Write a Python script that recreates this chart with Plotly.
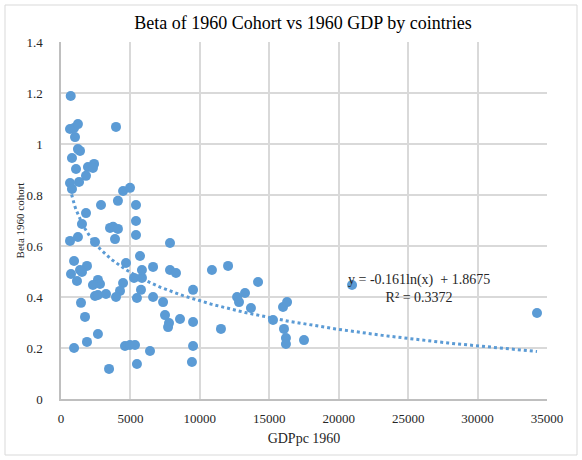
import numpy as np
import plotly.graph_objects as go

# GDP per capita 1960 (x) and Beta of 1960 cohort (y)
gdp_pc_1960 = [
    700, 650, 940, 1220, 1010, 3960, 1220, 1370, 790, 1080, 1940, 2380, 2300,
    1800, 1300, 650, 790, 4470, 4970, 2880, 4100, 5400, 1800, 5400, 1510,
    3530, 3750, 4100, 1220, 650, 2450, 3890, 5400, 7850, 5690, 4680, 940,
    1870, 1370, 1510, 720, 1150, 2660, 2810, 2300, 4470, 5260, 5830, 5830,
    6630, 7850, 8280, 10870, 12030, 14190, 5760, 4250, 9510, 2450, 2660,
    3240, 3960, 5470, 6630, 7350, 1440, 12680, 12820, 13250, 13680, 15990,
    16280, 7490, 7780, 7710, 8570, 9510, 11520, 15270, 16060, 16200, 16200,
    17500, 1730, 2660, 1870, 940, 4610, 4970, 5330, 6410, 9510, 9430, 5470,
    3460, 20960, 34280,
]
beta_1960 = [
    1.188, 1.059, 1.063, 1.078, 1.027, 1.067, 0.980, 0.973, 0.945, 0.902,
    0.910, 0.922, 0.906, 0.875, 0.851, 0.847, 0.824, 0.816, 0.828, 0.761,
    0.777, 0.761, 0.729, 0.698, 0.686, 0.671, 0.675, 0.667, 0.635, 0.620,
    0.616, 0.627, 0.643, 0.612, 0.561, 0.533, 0.541, 0.522, 0.506, 0.498,
    0.490, 0.463, 0.467, 0.451, 0.447, 0.455, 0.475, 0.475, 0.506, 0.518,
    0.506, 0.494, 0.506, 0.522, 0.459, 0.428, 0.424, 0.428, 0.404, 0.408,
    0.412, 0.400, 0.396, 0.400, 0.380, 0.377, 0.400, 0.380, 0.416, 0.357,
    0.361, 0.380, 0.329, 0.298, 0.282, 0.314, 0.302, 0.275, 0.310, 0.275,
    0.239, 0.216, 0.231, 0.322, 0.255, 0.224, 0.200, 0.208, 0.212, 0.212,
    0.188, 0.208, 0.145, 0.137, 0.118, 0.447, 0.337,
]

# Logarithmic trendline as shown on the chart
trend_a = -0.161
trend_b = 1.8675
r_squared = 0.3372

x_ticks = [0, 5000, 10000, 15000, 20000, 25000, 30000, 35000]
y_ticks = [0, 0.2, 0.4, 0.6, 0.8, 1.0, 1.2, 1.4]

title_text = "Beta of 1960 Cohort vs 1960 GDP by cointries"
x_title = "GDPpc 1960"
y_title = "Beta 1960 cohort"

blue = "#5B9BD5"
serif = "Liberation Serif"

tx = np.linspace(min(gdp_pc_1960), max(gdp_pc_1960), 300)
ty = trend_a * np.log(tx) + trend_b

fig = go.Figure()
fig.add_trace(go.Scatter(
    x=tx, y=ty, mode="lines",
    line=dict(color=blue, width=3, dash="dot"),
    hoverinfo="skip", showlegend=False,
))
fig.add_trace(go.Scatter(
    x=gdp_pc_1960, y=beta_1960, mode="markers",
    marker=dict(color=blue, size=10, line=dict(width=0)),
    showlegend=False,
))

fig.add_annotation(
    xref="paper", yref="paper",
    x=(419 - 61) / 486, y=(399 - 288) / 357,
    xanchor="center", yanchor="middle", showarrow=False,
    text=f"y = {trend_a}ln(x)  + {trend_b}<br>R² = {r_squared}",
    font=dict(family=serif, size=14, color="#262626"),
    align="center",
)

fig.add_shape(
    type="rect", xref="paper", yref="paper",
    x0=(5 - 61) / 486, x1=(577 - 61) / 486,
    y0=(399 - 455) / 357, y1=(399 - 5) / 357,
    line=dict(color="#D9D9D9", width=1), layer="below",
)

fig.update_layout(
    width=582, height=460,
    margin=dict(l=61, r=35, t=42, b=61, autoexpand=False),
    paper_bgcolor="white", plot_bgcolor="white",
    title=dict(
        text=title_text, x=303 / 582, xanchor="center",
        y=1 - 23 / 460, yanchor="middle",
        font=dict(family=serif, size=18, color="#000000"),
    ),
    xaxis=dict(
        range=[0, 35000], tickvals=x_ticks, tickformat="d",
        showgrid=True, gridcolor="#D9D9D9", gridwidth=1.5,
        showline=True, linecolor="#BFBFBF", linewidth=1.5,
        zeroline=False, ticks="", automargin=False,
        ticklabelstandoff=7,
        tickfont=dict(family=serif, size=13, color="#262626"),
        title=dict(text=x_title, font=dict(family=serif, size=14, color="#262626"), standoff=8),
    ),
    yaxis=dict(
        range=[0, 1.4], tickvals=y_ticks,
        showgrid=True, gridcolor="#D9D9D9", gridwidth=1.5,
        showline=True, linecolor="#BFBFBF", linewidth=1.5,
        zeroline=False, ticks="", automargin=False,
        ticklabelstandoff=14,
        tickfont=dict(family=serif, size=13, color="#262626"),
        title=dict(text=y_title, font=dict(family=serif, size=11, color="#262626"), standoff=0),
    ),
)

fig.write_html(
    "out.html",
    config={"displayModeBar": False},
    post_script="document.body.style.margin='0';document.body.style.padding='0';",
)
